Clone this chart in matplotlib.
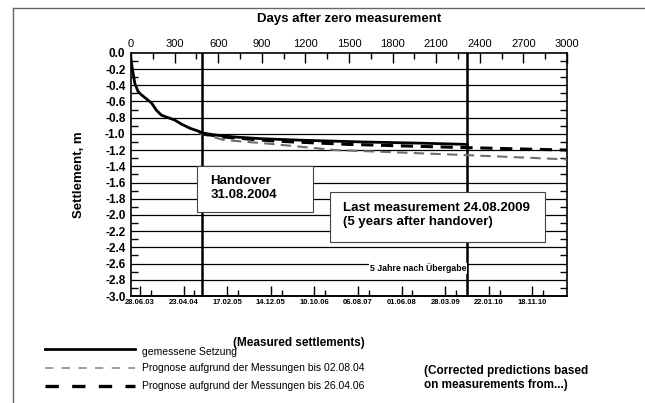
import matplotlib
matplotlib.use("Agg")
import matplotlib.pyplot as plt
from matplotlib.lines import Line2D
from matplotlib.ticker import MultipleLocator, FixedLocator

plt.rcParams['font.family'] = ['Liberation Sans', 'DejaVu Sans']

# measured settlement (days after zero measurement, m)
days_meas = [0, 11, 27, 50, 73, 108, 142, 176, 210, 256, 302, 348, 405, 462, 494,
             565, 634, 725, 900, 1200, 1600, 2000, 2313]
settle_meas = [-0.08, -0.21, -0.38, -0.48, -0.52, -0.57, -0.62, -0.71, -0.77, -0.80,
               -0.83, -0.88, -0.93, -0.965, -0.99, -1.01, -1.025, -1.04, -1.06,
               -1.08, -1.10, -1.115, -1.13]

# prediction based on measurements up to 02.08.04
days_p1 = [465, 638, 940, 1407, 1798, 2333, 3000]
settle_p1 = [-0.99, -1.075, -1.12, -1.20, -1.226, -1.264, -1.315]

# prediction based on measurements up to 26.04.06
days_p2 = [494, 640, 1000, 1500, 2000, 2313, 3000]
settle_p2 = [-1.0, -1.04, -1.09, -1.13, -1.155, -1.17, -1.20]

handover_day = 492
last_day = 2313

day_ticks = list(range(0, 3001, 300))
date_ticks = [62 + 300 * i for i in range(10)]
date_labels = ['28.06.03', '23.04.04', '17.02.05', '14.12.05', '10.10.06',
               '06.08.07', '01.06.08', '28.03.09', '22.01.10', '18.11.10']

fig = plt.figure(figsize=(6.45, 4.03), dpi=100)
ax = fig.add_axes([0.203, 0.2655, 0.676, 0.6035])

ax.set_xlim(0, 3000)
ax.set_ylim(-3.0, 0.0)

# grid
for y in [-0.2 * i for i in range(1, 15)]:
    ax.axhline(y, color='black', lw=0.9, zorder=1)

ax.plot(days_p1, settle_p1, color='#6e6e6e', lw=1.5, dashes=(5, 3), zorder=3)
ax.plot(days_p2, settle_p2, color='black', lw=2.2, dashes=(4, 2.5), zorder=4)
ax.plot(days_meas, settle_meas, color='black', lw=2.0, zorder=5)

ax.axvline(handover_day, color='black', lw=1.8, zorder=2)
ax.axvline(last_day, color='black', lw=1.8, zorder=2)

# boxes
ax.text(546, -1.665, 'Handover\n31.08.2004', fontsize=9.5, fontweight='bold',
        va='center', ha='left', linespacing=1.25, zorder=6)
ax.add_patch(plt.Rectangle((453, -1.96), 803, 0.56, facecolor='white',
                           edgecolor='#444444', lw=0.8, zorder=5.5))
ax.text(1460, -2.0, 'Last measurement 24.08.2009\n(5 years after handover)',
        fontsize=9.5, fontweight='bold', va='center', ha='left',
        linespacing=1.25, zorder=6)
ax.add_patch(plt.Rectangle((1373, -2.34), 1476, 0.62, facecolor='white',
                           edgecolor='#444444', lw=0.8, zorder=5.5))

ax.text(last_day - 5, -2.66, '5 Jahre nach Übergabe', fontsize=6.3,
        fontweight='bold', ha='right', va='center', zorder=6,
        bbox=dict(facecolor='white', edgecolor='none', pad=0.5))

# top axis: days
ax.xaxis.tick_top()
ax.xaxis.set_label_position('top')
ax.set_xticks(day_ticks)
ax.xaxis.set_minor_locator(MultipleLocator(150))
ax.tick_params(axis='x', which='major', direction='in', length=7, width=1.0,
               labelsize=8, pad=3)
ax.tick_params(axis='x', which='minor', direction='in', length=4, width=1.0)
ax.set_xlabel('Days after zero measurement', fontsize=9.5, fontweight='bold',
              labelpad=12)

# y axis
ax.yaxis.set_major_locator(MultipleLocator(0.2))
ax.yaxis.set_minor_locator(FixedLocator([-0.1 - 0.2 * i for i in range(15)]))
ax.set_yticklabels([f'{v:.1f}' for v in ax.get_yticks()])
ax.tick_params(axis='y', which='major', length=0, labelsize=8.5, pad=4)
ax.tick_params(axis='y', which='minor', direction='in', length=5, width=1.0,
               left=True, right=True)
for lab in ax.get_yticklabels():
    lab.set_fontweight('bold')
ax.set_ylabel('Settlement, m', fontsize=9.5, fontweight='bold', labelpad=14)

# bottom axis: dates
sec = ax.secondary_xaxis('bottom')
sec.set_xticks(date_ticks)
sec.set_xticklabels(date_labels)
sec.xaxis.set_minor_locator(FixedLocator([137 + 300 * i for i in range(10)]))
sec.tick_params(axis='x', which='major', direction='in', length=7, width=1.0,
                labelsize=5.5, pad=2)
sec.tick_params(axis='x', which='minor', direction='in', length=4, width=1.0)
for lab in sec.get_xticklabels():
    lab.set_fontweight('bold')
sec.spines['bottom'].set_linewidth(1.2)

for s in ax.spines.values():
    s.set_linewidth(1.2)

# page frame
fig.add_artist(Line2D([13 / 645, 1.0], [1 - 8 / 403, 1 - 8 / 403],
                      color='#666666', lw=1.0))
fig.add_artist(Line2D([13 / 645, 13 / 645], [0, 1 - 8 / 403],
                      color='#666666', lw=1.0))

# legend
def fy(py):
    return 1 - py / 403

fig.add_artist(Line2D([45 / 645, 135 / 645], [fy(349), fy(349)],
                      color='black', lw=2.0))
fig.add_artist(Line2D([45 / 645, 135 / 645], [fy(368), fy(368)],
                      color='#8c8c8c', lw=1.2, dashes=(5, 5)))
fig.add_artist(Line2D([45 / 645, 135 / 645], [fy(386), fy(386)],
                      color='black', lw=2.4, dashes=(4, 4)))
fig.text(142 / 645, fy(352), 'gemessene Setzung', fontsize=7.5, va='center')
fig.text(142 / 645, fy(368), 'Prognose aufgrund der Messungen bis 02.08.04',
         fontsize=7.5, va='center')
fig.text(142 / 645, fy(386), 'Prognose aufgrund der Messungen bis 26.04.06',
         fontsize=7.5, va='center')
fig.text(233 / 645, fy(343), '(Measured settlements)', fontsize=8.5,
         fontweight='bold', va='center')
fig.text(424 / 645, fy(378), '(Corrected predictions based\non measurements from...)',
         fontsize=8.5, fontweight='bold', va='center', linespacing=1.3)

fig.savefig('out.png', dpi=100)
